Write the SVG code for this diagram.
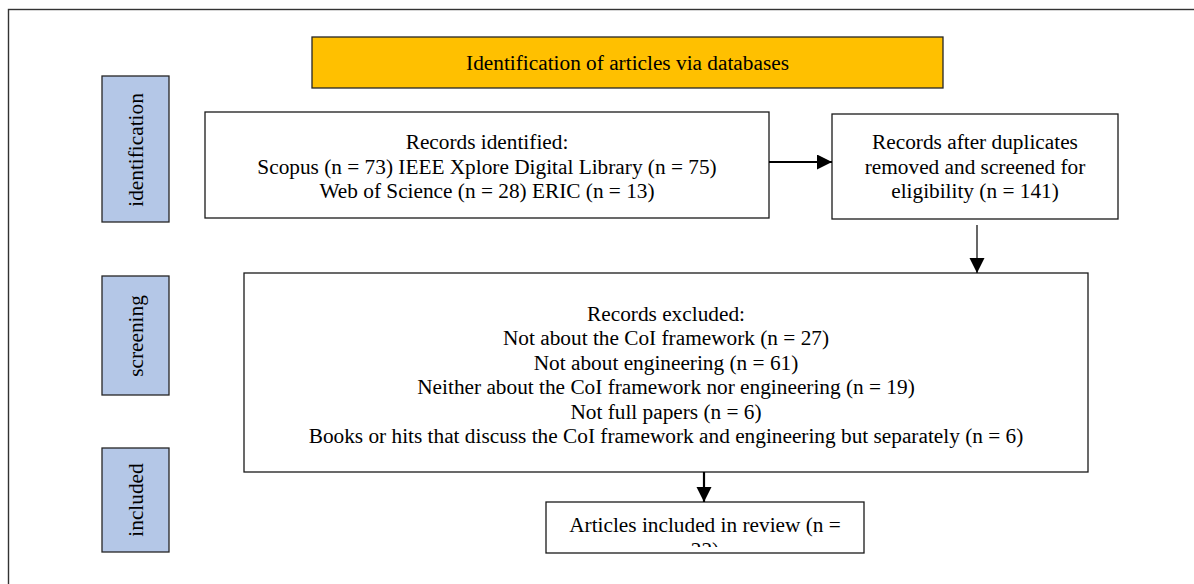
<svg xmlns="http://www.w3.org/2000/svg" width="1194" height="584" viewBox="0 0 1194 584">
<style>
text{font-family:"Liberation Serif","Times New Roman",serif;font-size:21.3px;fill:#000;text-anchor:middle}
.box{fill:#fff;stroke:#1a1a1a;stroke-width:1.3}
.side{fill:#b4c7e7;stroke:#262626;stroke-width:1.3}
.head{fill:#ffc000;stroke:#262626;stroke-width:1.3}
.thick{stroke:#000;stroke-width:2.2;fill:none}
.thin{stroke:#000;stroke-width:1.2;fill:none}
</style>
<defs>
<marker id="ah" markerUnits="userSpaceOnUse" markerWidth="16" markerHeight="16" refX="15" refY="7.5" orient="auto">
<path d="M0,0 L15,7.5 L0,15 Z" fill="#000"/>
</marker>
<clipPath id="clipFinal"><rect x="546" y="502" width="318" height="45"/></clipPath>
</defs>
<rect x="8.5" y="9.5" width="1200" height="600" fill="#fff" stroke="#333" stroke-width="1.4"/>

<g id="header">
<rect class="head" x="312" y="37" width="631" height="51"/>
<text x="627.5" y="70">Identification of articles via databases</text>
</g>

<g id="label-identification">
<rect class="side" x="102" y="76" width="67" height="146"/>
<text transform="translate(143,150) rotate(-90)">identification</text>
</g>
<g id="label-screening">
<rect class="side" x="102" y="276" width="67" height="119"/>
<text transform="translate(143,336) rotate(-90)">screening</text>
</g>
<g id="label-included">
<rect class="side" x="102" y="448" width="67" height="104"/>
<text transform="translate(143,500) rotate(-90)">included</text>
</g>

<g id="records-identified">
<rect class="box" x="205" y="112" width="564" height="106"/>
<text x="487" y="149">Records identified:</text>
<text x="487" y="173.5">Scopus (n = 73) IEEE Xplore Digital Library (n = 75)</text>
<text x="487" y="198">Web of Science (n = 28) ERIC (n = 13)</text>
</g>

<g id="records-after-duplicates">
<rect class="box" x="832" y="114" width="286" height="105"/>
<text x="975" y="149">Records after duplicates</text>
<text x="975" y="173.5">removed and screened for</text>
<text x="975" y="198">eligibility (n = 141)</text>
</g>

<g id="records-excluded">
<rect class="box" x="244" y="273" width="844" height="199"/>
<text x="666" y="320.5">Records excluded:</text>
<text x="666" y="345">Not about the CoI framework (n = 27)</text>
<text x="666" y="369.5">Not about engineering (n = 61)</text>
<text x="666" y="394">Neither about the CoI framework nor engineering (n = 19)</text>
<text x="666" y="418.5">Not full papers (n = 6)</text>
<text x="666" y="443">Books or hits that discuss the CoI framework and engineering but separately (n = 6)</text>
</g>

<g id="articles-included">
<rect class="box" x="546" y="502" width="318" height="51"/>
<g clip-path="url(#clipFinal)">
<text x="705" y="532">Articles included in review (n =</text>
<text x="705" y="556.5">22)</text>
</g>
</g>

<g id="connectors">
<line class="thick" x1="769" y1="162" x2="832" y2="162" marker-end="url(#ah)"/>
<line class="thin" x1="977" y1="225" x2="977" y2="273" marker-end="url(#ah)"/>
<line class="thick" x1="704" y1="472" x2="704" y2="502" marker-end="url(#ah)"/>
</g>
</svg>
